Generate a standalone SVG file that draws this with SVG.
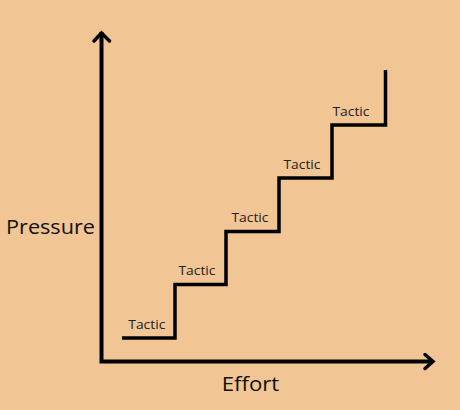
<svg xmlns="http://www.w3.org/2000/svg" width="460" height="410" viewBox="0 0 460 410">
<style>
.axis{fill:none;stroke:#000;stroke-width:4;stroke-linecap:square}
.head{fill:none;stroke:#000;stroke-width:3.5;stroke-linecap:round;stroke-linejoin:miter}
.stair{fill:none;stroke:#000;stroke-width:3.5;stroke-linejoin:miter}
.tactic{font-family:"Open Sans","Liberation Sans",sans-serif;font-size:12.6px;fill:#222}
.big{font-family:"Open Sans","Liberation Sans",sans-serif;font-size:20px;fill:#111}
</style>
<rect width="460" height="410" fill="#F1C594"/>
<g id="connectors">
<path class="axis" d="M101.5 34 V361.5 H431"/>
<path class="head" d="M94 41 L101.5 33 L109.5 41"/>
<path class="head" d="M425 354.5 L433 361.5 L425 368.5"/>
<path class="stair" d="M122 338 H175 V284.5 H226 V231.5 H279 V178 H332 V125 H385.5 V70"/>
</g>
<g id="label-pressure"><text class="big" x="6" y="234" textLength="89" lengthAdjust="spacingAndGlyphs">Pressure</text></g>
<g id="label-effort"><text class="big" x="221.7" y="390.5" textLength="57.6" lengthAdjust="spacingAndGlyphs">Effort</text></g>
<g id="tactic1"><text class="tactic" x="128.3" y="329" textLength="37" lengthAdjust="spacingAndGlyphs">Tactic</text></g>
<g id="tactic2"><text class="tactic" x="178.5" y="275" textLength="37" lengthAdjust="spacingAndGlyphs">Tactic</text></g>
<g id="tactic3"><text class="tactic" x="231.5" y="222" textLength="37" lengthAdjust="spacingAndGlyphs">Tactic</text></g>
<g id="tactic4"><text class="tactic" x="283.5" y="169" textLength="37" lengthAdjust="spacingAndGlyphs">Tactic</text></g>
<g id="tactic5"><text class="tactic" x="332.5" y="116" textLength="37" lengthAdjust="spacingAndGlyphs">Tactic</text></g>
</svg>
